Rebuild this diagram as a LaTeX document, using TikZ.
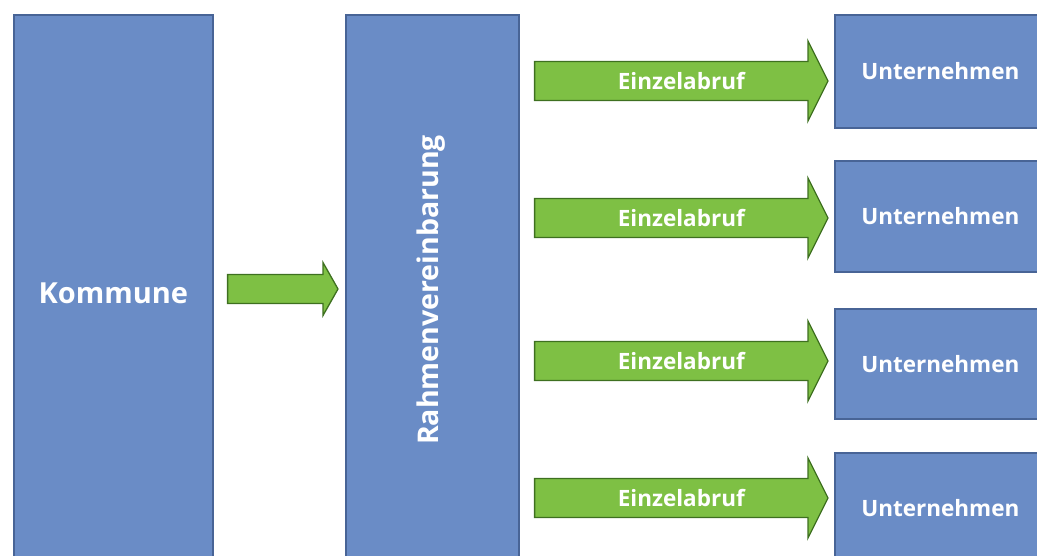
\documentclass[tikz,border=0pt]{standalone}
\usepackage{fontspec}
\setmainfont{Open Sans}
\usetikzlibrary{calc}
\definecolor{boxblue}{RGB}{106,140,198}
\definecolor{boxedge}{RGB}{72,100,150}
\definecolor{arrgreen}{RGB}{126,192,68}
\definecolor{arredge}{RGB}{62,112,32}
\newcommand\fatarrow[5]{%
  \path[arrowstyle] let \p1=(#1), \p2=(#2) in
    (\x1,\y1+#3) -- (\x2-#5,\y1+#3) -- (\x2-#5,\y1+#4) -- (\x2,\y1)
    -- (\x2-#5,\y1-#4) -- (\x2-#5,\y1-#3) -- (\x1,\y1-#3) -- cycle;}
\begin{document}
\begin{tikzpicture}[x=1pt,y=-1pt,
  box/.style={fill=boxblue,draw=boxedge,line width=1.6pt,inner sep=0pt,anchor=north west,
    text=white,font=\bfseries},
  arrowstyle/.style={fill=arrgreen,draw=arredge,line width=1.3pt,line join=miter},
  arrtext/.style={text=white,font=\bfseries\fontsize{22.5}{24}\selectfont},
  unt/.style={box,minimum width=211pt,font=\bfseries\fontsize{22.5}{24}\selectfont}]
\useasboundingbox (0,0) rectangle (1037,555);
\clip (0,0) rectangle (1037,555);
% main boxes
\node[box,minimum width=199pt,minimum height=556pt,font=\bfseries\fontsize{29}{31}\selectfont]
  (kommune) at (13,14) {Kommune};
\node[box,minimum width=173pt,minimum height=556pt] (rahmen) at (345,14) {};
\node[rotate=90,text=white,font=\bfseries\fontsize{28.5}{30}\selectfont]
  (rahmentext) at (431,290) {Rahmenvereinbarung};
% company boxes
\node[unt,minimum height=113pt] (u1) at (834,14) {Unternehmen};
\node[unt,minimum height=111pt] (u2) at (834,160) {Unternehmen};
\node[unt,minimum height=110pt] (u3) at (834,308) {Unternehmen};
\node[unt,minimum height=110pt] (u4) at (834,452) {Unternehmen};
% main arrow
\path (kommune.east |- 0,289) ++(14,0) coordinate (m0);
\path (rahmen.west |- 0,289) ++(-7,0) coordinate (m1);
\fatarrow{m0}{m1}{14.5pt}{26.5pt}{15pt}
% call-off arrows
\foreach \i/\y in {1/81,2/218,3/361,4/498}{
  \path (rahmen.east |- 0,\y) ++(15,0) coordinate (a\i t);
  \path (u\i.west |- 0,\y) ++(-6,0) coordinate (a\i h);
  \fatarrow{a\i t}{a\i h}{19.5pt}{40pt}{20pt}
  \node[arrtext] (e\i) at ($(a\i t)!0.5!(a\i h)$) {Einzelabruf};
}
\end{tikzpicture}
\end{document}
